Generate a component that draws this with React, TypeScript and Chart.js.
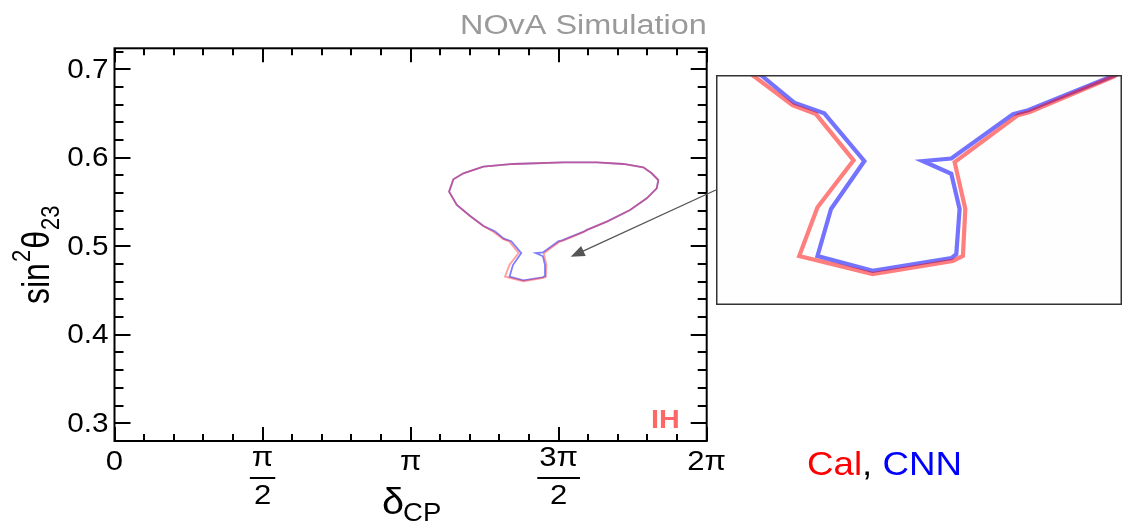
import React, { useEffect, useRef } from "react";
import { Chart, registerables } from "chart.js";

Chart.register(...registerables);

// ---- data (delta_CP in units of pi, sin^2 theta_23) ----
const calDelta = [
  1.2794, 1.3131, 1.3329, 1.3646, 1.3342, 1.3188, 1.3807, 1.4482, 1.4567, 1.4587, 1.4497,
  1.5031, 1.513, 1.5833, 1.5947, 1.6623, 1.741, 1.7974, 1.8311, 1.8365, 1.8142, 1.7859,
  1.7183, 1.6285, 1.5157, 1.3468, 1.2455, 1.178, 1.1442, 1.1297, 1.1557, 1.2006, 1.2455, 1.2794,
];
const calSin2 = [
  0.5165, 0.508, 0.5055, 0.4925, 0.4793, 0.4656, 0.4605, 0.4642, 0.4656, 0.4788, 0.492,
  0.5052, 0.5061, 0.516, 0.5182, 0.5278, 0.541, 0.5542, 0.5655, 0.5749, 0.5825, 0.5893,
  0.593, 0.5949, 0.5949, 0.593, 0.5899, 0.5825, 0.5757, 0.5617, 0.5467, 0.5342, 0.5229, 0.5165,
];
const cnnDelta = [
  1.2864, 1.3146, 1.3399, 1.3737, 1.3456, 1.3342, 1.3807, 1.4469, 1.4511, 1.4539, 1.4469,
  1.4229, 1.4469, 1.4989, 1.5116, 1.5848, 1.5955, 1.6628, 1.7412, 1.7976, 1.8313, 1.8367,
  1.8143, 1.786, 1.7183, 1.6285, 1.5157, 1.3468, 1.2458, 1.1784, 1.1446, 1.1302, 1.1562,
  1.2012, 1.2462, 1.2864,
];
const cnnSin2 = [
  0.5165, 0.5087, 0.5057, 0.4923, 0.4788, 0.4656, 0.4614, 0.465, 0.4661, 0.4788, 0.4887,
  0.4923, 0.493, 0.5055, 0.5066, 0.5165, 0.5185, 0.5279, 0.541, 0.5542, 0.5655, 0.5749,
  0.5825, 0.5893, 0.593, 0.5949, 0.5949, 0.593, 0.5899, 0.5825, 0.5757, 0.5617, 0.5467,
  0.5342, 0.5229, 0.5165,
];

const xTickValues = [0, 0.5, 1, 1.5, 2];
const xTickNumerators = ["0", "π", "π", "3π", "2π"];
const xTickDenominators = ["", "2", "", "2", ""];
const yTickValues = [0.3, 0.4, 0.5, 0.6, 0.7];
const yTickLabels = ["0.3", "0.4", "0.5", "0.6", "0.7"];

const xRange = [0, 2];
const yRange = [0.28, 0.7237];
const insetXRange = [1.2487, 1.5907];
const insetYRange = [0.4518, 0.5165];
const arrowFrom = [2.031, 0.5636];
const arrowTo = [1.5407, 0.4882];

const titleText = "NOvA Simulation";
const hierarchyText = "IH";
const calLabel = "Cal";
const cnnLabel = "CNN";

const FONT = '"Liberation Sans", Arial, sans-serif';

function toPoints(xs: number[], ys: number[]) {
  return xs.map((x, i) => ({ x, y: ys[i] }));
}

function drawText(
  ctx: CanvasRenderingContext2D,
  text: string,
  x: number,
  y: number,
  font: string,
  hs: number,
  align: "left" | "center" | "right",
  baseline: CanvasTextBaseline,
  color: string
) {
  ctx.save();
  ctx.font = font;
  ctx.fillStyle = color;
  ctx.textAlign = "left";
  ctx.textBaseline = baseline;
  const w = ctx.measureText(text).width * hs;
  const x0 = align === "center" ? x - w / 2 : align === "right" ? x - w : x;
  ctx.translate(x0, y);
  ctx.scale(hs, 1);
  ctx.fillText(text, 0, 0);
  ctx.restore();
  return w;
}

const framePlugin = {
  id: "rootFrame",
  afterDraw(chart: any) {
    const ctx: CanvasRenderingContext2D = chart.ctx;
    const { left, right, top, bottom } = chart.chartArea;
    const xs = chart.scales.x;
    const ys = chart.scales.y;
    ctx.save();
    ctx.strokeStyle = "#000";
    ctx.lineWidth = 2;
    ctx.lineCap = "butt";
    // x ticks (minor every 0.1 pi)
    for (let i = 0; i <= 20; i++) {
      const v = i * 0.1;
      const px = Math.round(xs.getPixelForValue(v));
      const len = i % 5 === 0 ? 14 : 7;
      ctx.beginPath();
      ctx.moveTo(px, bottom);
      ctx.lineTo(px, bottom - len);
      ctx.moveTo(px, top);
      ctx.lineTo(px, top + len);
      ctx.stroke();
    }
    // y ticks (minor every 0.02)
    for (let k = 14; k <= 36; k++) {
      const v = k * 0.02;
      const py = Math.round(ys.getPixelForValue(v));
      const len = k % 5 === 0 ? 16 : 9;
      ctx.beginPath();
      ctx.moveTo(left, py);
      ctx.lineTo(left + len, py);
      ctx.moveTo(right, py);
      ctx.lineTo(right - len, py);
      ctx.stroke();
    }
    ctx.strokeRect(left, top, right - left, bottom - top);

    // y tick labels
    yTickValues.forEach((v, i) => {
      const py = ys.getPixelForValue(v);
      drawText(ctx, yTickLabels[i], left - 6, py + 1, `27px ${FONT}`, 1.1, "right", "middle", "#000");
    });
    // x tick labels
    xTickValues.forEach((v, i) => {
      const px = xs.getPixelForValue(v);
      const num = xTickNumerators[i];
      const den = xTickDenominators[i];
      if (!den) {
        drawText(ctx, num, px, bottom + 22, `27px ${FONT}`, 1.15, "center", "middle", "#000");
      } else {
        const w = drawText(ctx, num, px, bottom + 18, `27px ${FONT}`, 1.15, "center", "middle", "#000");
        ctx.beginPath();
        ctx.lineWidth = 2;
        ctx.moveTo(px - w / 2 - 2, bottom + 37);
        ctx.lineTo(px + w / 2 + 2, bottom + 37);
        ctx.stroke();
        drawText(ctx, den, px, bottom + 56, `27px ${FONT}`, 1.15, "center", "middle", "#000");
      }
    });
    // x title
    const dw = drawText(ctx, "δ", 382, 514, `36px ${FONT}`, 1.1, "left", "alphabetic", "#000");
    drawText(ctx, "CP", 381 + dw, 521, `25px ${FONT}`, 1.1, "left", "alphabetic", "#000");

    // y title (rotated)
    ctx.save();
    ctx.translate(49, 304);
    ctx.scale(1.2, 1);
    ctx.rotate(-Math.PI / 2);
    ctx.fillStyle = "#000";
    ctx.textBaseline = "alphabetic";
    ctx.textAlign = "left";
    let cx = 0;
    ctx.font = `32px ${FONT}`;
    ctx.fillText("sin", cx, 0);
    cx += ctx.measureText("sin").width;
    ctx.font = `22px ${FONT}`;
    ctx.fillText("2", cx + 1, -16);
    cx += ctx.measureText("2").width + 2;
    ctx.font = `32px ${FONT}`;
    ctx.fillText("θ", cx, 0);
    cx += ctx.measureText("θ").width;
    ctx.font = `22px ${FONT}`;
    ctx.fillText("23", cx + 1, 8);
    ctx.restore();

    // title
    drawText(ctx, titleText, right, 34, `27px ${FONT}`, 1.2, "right", "alphabetic", "#9a9a9a");
    // IH
    drawText(ctx, hierarchyText, right - 27, bottom - 13, `bold 25px ${FONT}`, 1.15, "right", "alphabetic", "rgba(255,0,0,0.6)");
    // Cal, CNN
    let lx = 807;
    lx += drawText(ctx, calLabel, lx, 475, `34px ${FONT}`, 1.08, "left", "alphabetic", "#ff0000");
    lx += drawText(ctx, ", ", lx, 475, `34px ${FONT}`, 1.08, "left", "alphabetic", "#000000");
    drawText(ctx, cnnLabel, lx, 475, `34px ${FONT}`, 1.08, "left", "alphabetic", "#0000ff");

    // arrow
    const ax0 = xs.getPixelForValue(arrowFrom[0]);
    const ay0 = ys.getPixelForValue(arrowFrom[1]);
    const ax1 = xs.getPixelForValue(arrowTo[0]);
    const ay1 = ys.getPixelForValue(arrowTo[1]);
    const ang = Math.atan2(ay1 - ay0, ax1 - ax0);
    const hl = 14;
    const hw = 5.5;
    ctx.strokeStyle = "#555";
    ctx.fillStyle = "#555";
    ctx.lineWidth = 1.3;
    ctx.beginPath();
    ctx.moveTo(ax0, ay0);
    ctx.lineTo(ax1 - Math.cos(ang) * hl * 0.8, ay1 - Math.sin(ang) * hl * 0.8);
    ctx.stroke();
    ctx.beginPath();
    ctx.moveTo(ax1, ay1);
    ctx.lineTo(ax1 - Math.cos(ang) * hl - Math.sin(ang) * hw, ay1 - Math.sin(ang) * hl + Math.cos(ang) * hw);
    ctx.lineTo(ax1 - Math.cos(ang) * hl + Math.sin(ang) * hw, ay1 - Math.sin(ang) * hl - Math.cos(ang) * hw);
    ctx.closePath();
    ctx.fill();
    ctx.restore();
  },
};

const insetBorderPlugin = {
  id: "insetBorder",
  beforeDraw(chart: any) {
    const ctx: CanvasRenderingContext2D = chart.ctx;
    ctx.save();
    ctx.fillStyle = "#fefefe";
    ctx.fillRect(0, 0, chart.width, chart.height);
    ctx.restore();
  },
  afterDraw(chart: any) {
    const ctx: CanvasRenderingContext2D = chart.ctx;
    ctx.save();
    ctx.strokeStyle = "#333";
    ctx.lineWidth = 1.5;
    ctx.strokeRect(0.75, 0.75, chart.width - 1.5, chart.height - 1.5);
    ctx.restore();
  },
};

function makeDatasets(width: number, calColor: string, cnnColor: string) {
  return [
    {
      label: calLabel,
      data: toPoints(calDelta, calSin2),
      showLine: true,
      borderColor: calColor,
      backgroundColor: calColor,
      borderWidth: width,
      pointRadius: 0,
      fill: false,
      tension: 0,
    },
    {
      label: cnnLabel,
      data: toPoints(cnnDelta, cnnSin2),
      showLine: true,
      borderColor: cnnColor,
      backgroundColor: cnnColor,
      borderWidth: width,
      pointRadius: 0,
      fill: false,
      tension: 0,
    },
  ];
}

export default function App() {
  const mainRef = useRef<HTMLCanvasElement>(null);
  const insetRef = useRef<HTMLCanvasElement>(null);

  useEffect(() => {
    const main = new Chart(mainRef.current as HTMLCanvasElement, {
      type: "scatter",
      data: { datasets: makeDatasets(1.8, "rgba(255,40,40,0.45)", "rgba(40,40,255,0.6)") as any },
      options: {
        animation: false,
        responsive: false,
        devicePixelRatio: 1,
        layout: { padding: { left: 114.5, right: 415.3, top: 48.3, bottom: 82 } },
        scales: {
          x: { type: "linear", min: xRange[0], max: xRange[1], display: false },
          y: { type: "linear", min: yRange[0], max: yRange[1], display: false },
        },
        plugins: { legend: { display: false }, tooltip: { enabled: false }, title: { display: false } },
      },
      plugins: [framePlugin],
    });
    const inset = new Chart(insetRef.current as HTMLCanvasElement, {
      type: "scatter",
      data: { datasets: makeDatasets(4.2, "rgba(255,0,0,0.5)", "rgba(0,0,255,0.55)") as any },
      options: {
        animation: false,
        responsive: false,
        devicePixelRatio: 1,
        layout: { padding: 0 },
        scales: {
          x: { type: "linear", min: insetXRange[0], max: insetXRange[1], display: false },
          y: { type: "linear", min: insetYRange[0], max: insetYRange[1], display: false },
        },
        plugins: { legend: { display: false }, tooltip: { enabled: false } },
      },
      plugins: [insetBorderPlugin],
    });
    return () => {
      main.destroy();
      inset.destroy();
    };
  }, []);

  return (
    <div style={{ position: "absolute", left: 0, top: 0, width: 1122, height: 523, background: "#fff", overflow: "hidden" }}>
      <canvas ref={mainRef} width={1122} height={523} style={{ position: "absolute", left: 0, top: 0, width: 1122, height: 523 }} />
      <canvas ref={insetRef} width={406} height={230} style={{ position: "absolute", left: 716, top: 75, width: 406, height: 230 }} />
    </div>
  );
}
